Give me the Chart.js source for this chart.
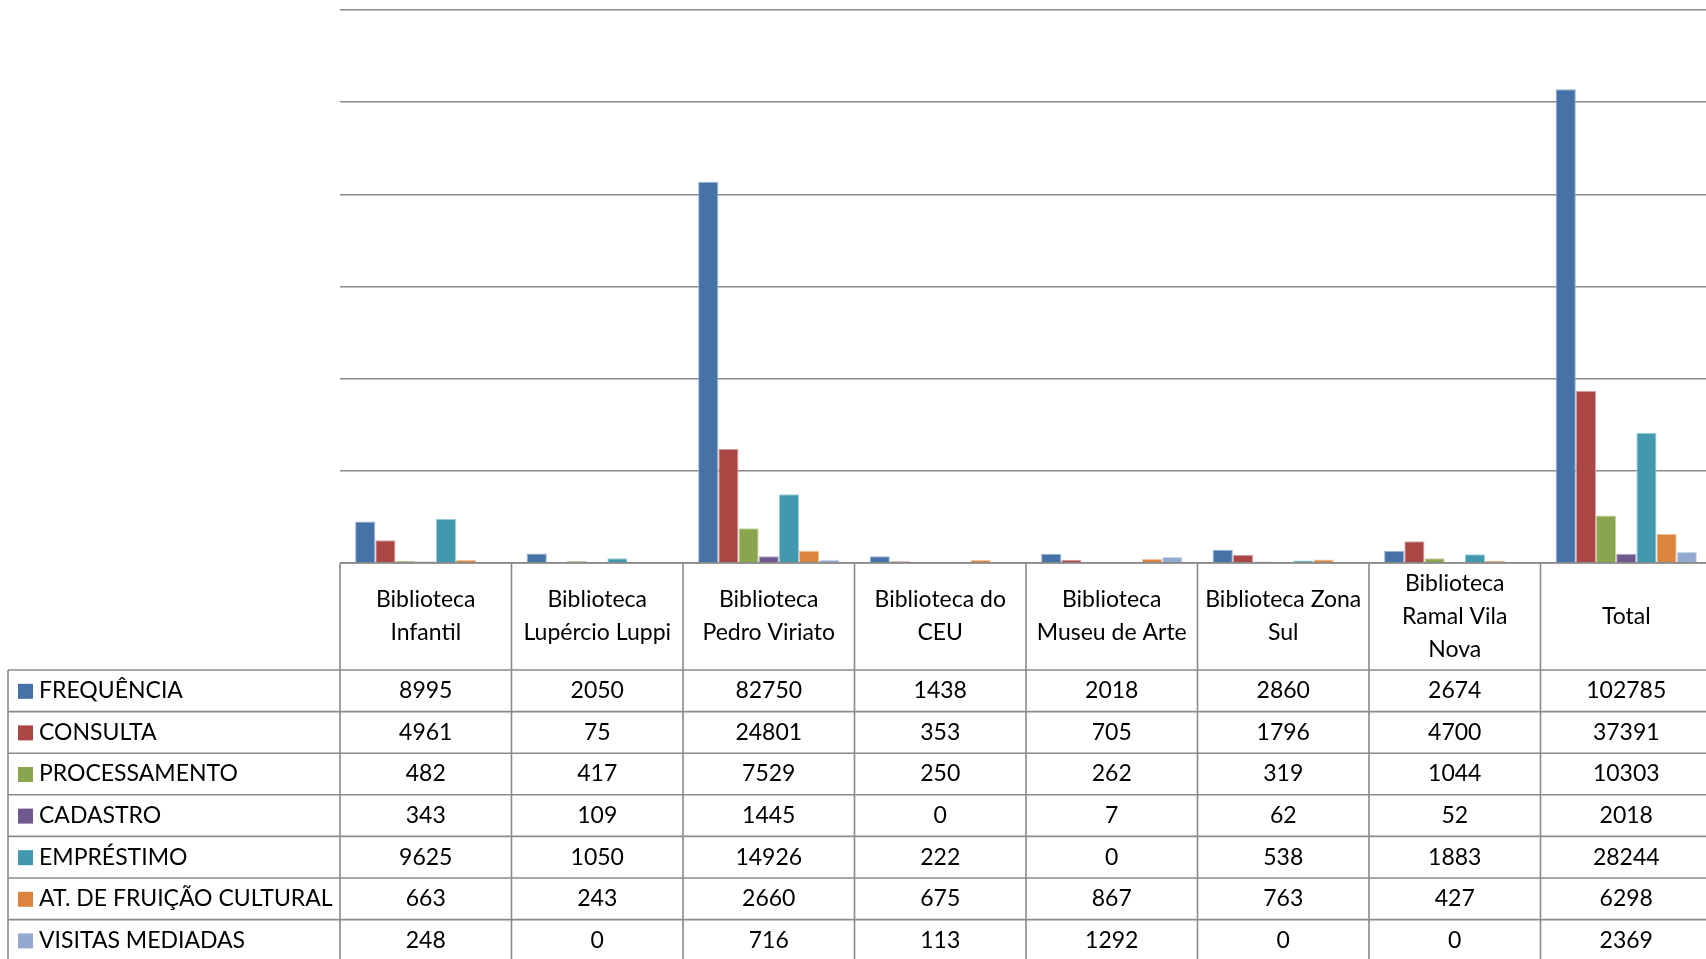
<!DOCTYPE html>
<html>
<head>
<meta charset="utf-8">
<script src="https://cdn.jsdelivr.net/npm/chart.js@4.4.0/dist/chart.umd.min.js"></script>
<style>
  html, body { margin: 0; padding: 0; background: #fff; overflow: hidden; }
  #wrap { position: absolute; left: 0; top: 0; width: 1712px; height: 959px; }
</style>
</head>
<body>
<div id="wrap"><canvas id="myChart"></canvas></div>
<script>
"use strict"

// CATEGORIES (one column of the data table each)
const bibliotecas = [
    ["Biblioteca", "Infantil"],
    ["Biblioteca", "Lupércio Luppi"],
    ["Biblioteca", "Pedro Viriato"],
    ["Biblioteca do", "CEU"],
    ["Biblioteca", "Museu de Arte"],
    ["Biblioteca Zona", "Sul"],
    ["Biblioteca", "Ramal Vila", "Nova"],
    ["Total"]
];

// SERIES NAMES
const seriesNames = [
    "FREQUÊNCIA",
    "CONSULTA",
    "PROCESSAMENTO",
    "CADASTRO",
    "EMPRÉSTIMO",
    "AT. DE FRUIÇÃO CULTURAL",
    "VISITAS MEDIADAS"
];

// SERIES VALUES
const frequencia = [8995, 2050, 82750, 1438, 2018, 2860, 2674, 102785];
const consulta = [4961, 75, 24801, 353, 705, 1796, 4700, 37391];
const processamento = [482, 417, 7529, 250, 262, 319, 1044, 10303];
const cadastro = [343, 109, 1445, 0, 7, 62, 52, 2018];
const emprestimo = [9625, 1050, 14926, 222, 0, 538, 1883, 28244];
const fruicao = [663, 243, 2660, 675, 867, 763, 427, 6298];
const visitas = [248, 0, 716, 113, 1292, 0, 0, 2369];

const seriesValues = [frequencia, consulta, processamento, cadastro, emprestimo, fruicao, visitas];

const fillColors = ['#4572A7', '#AA4643', '#89A54E', '#71588F', '#4198AF', '#DB843D', '#93A9CF'];
const edgeColors = ['#9DB3D3', '#D8A3A2', '#C5D5A8', '#B7A9C9', '#A2D0DC', '#F0C4A0', '#CAD6EA'];

const FONT = 'Lato, "Open Sans", sans-serif';
const LINE = '#8a8a8a';

// DRAW THE DATA TABLE UNDER THE PLOT (EXCEL STYLE)
const dataTable = {
    id: 'dataTable',
    afterDraw(chart) {
        const ctx = chart.ctx;
        const area = chart.chartArea;
        const xs = chart.scales.x;
        const n = bibliotecas.length;
        const colW = (area.right - area.left) / n;
        const top = area.bottom;
        const headerH = 107;
        const rowH = 41.6;
        const tableLeft = 8;
        const bottom = top + headerH + rowH * seriesNames.length;

        ctx.save();
        ctx.strokeStyle = LINE;
        ctx.lineWidth = 1.6;

        // horizontal lines
        ctx.beginPath();
        ctx.moveTo(area.left, top);
        ctx.lineTo(area.right, top);
        for (let r = 0; r <= seriesNames.length; r++) {
            let y = top + headerH + r * rowH;
            ctx.moveTo(tableLeft, y);
            ctx.lineTo(area.right, y);
        }
        // vertical lines
        ctx.moveTo(tableLeft, top + headerH);
        ctx.lineTo(tableLeft, bottom);
        for (let c = 0; c <= n; c++) {
            let x = area.left + c * colW;
            ctx.moveTo(x, top);
            ctx.lineTo(x, bottom);
        }
        ctx.stroke();

        ctx.fillStyle = '#000';
        ctx.font = '23px ' + FONT;
        ctx.textAlign = 'center';
        ctx.textBaseline = 'middle';

        // header labels
        bibliotecas.forEach((lines, i) => {
            let cx = xs.getPixelForValue(i);
            let lh = 33;
            let y0 = top + headerH / 2 - (lines.length - 1) * lh / 2;
            lines.forEach((t, k) => ctx.fillText(t, cx, y0 + k * lh));
        });

        // rows
        seriesNames.forEach((name, r) => {
            let cy = top + headerH + r * rowH + rowH / 2;
            ctx.fillStyle = fillColors[r];
            ctx.fillRect(18, cy - 7, 15, 15);
            ctx.fillStyle = '#000';
            ctx.textAlign = 'left';
            ctx.fillText(name, 39, cy);
            ctx.textAlign = 'center';
            seriesValues[r].forEach((v, i) => {
                ctx.fillText(String(v), xs.getPixelForValue(i), cy);
            });
        });
        ctx.restore();
    }
};

let datasets = seriesNames.map((name, i) => ({
    label: name,
    data: seriesValues[i],
    backgroundColor: fillColors[i],
    borderColor: edgeColors[i],
    borderWidth: 1,
    barPercentage: 1,
    categoryPercentage: 7 / 8.5
}));

let config = {
    type: 'bar',
    data: {
        labels: bibliotecas,
        datasets: datasets
    },
    options: {
        responsive: true,
        maintainAspectRatio: false,
        animation: false,
        layout: {
            padding: { left: 340, top: 10, right: 0, bottom: 396 }
        },
        plugins: {
            legend: { display: false },
            tooltip: { enabled: false }
        },
        scales: {
            x: {
                display: false
            },
            y: {
                min: 0,
                max: 120000,
                ticks: { display: false, stepSize: 20000 },
                grid: { color: LINE, lineWidth: 1.6, drawTicks: false },
                border: { display: false }
            }
        }
    },
    plugins: [dataTable]
};

let myChart = new Chart(document.getElementById('myChart'), config);
</script>
</body>
</html>
